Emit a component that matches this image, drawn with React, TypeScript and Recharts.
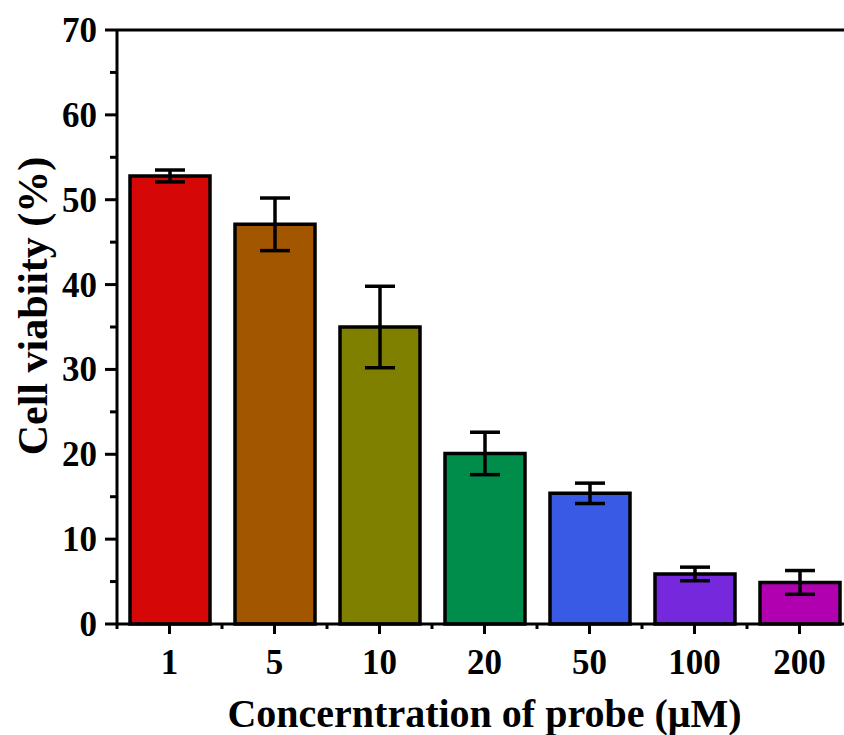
import { BarChart, Bar, XAxis, YAxis, Cell, ErrorBar, ReferenceLine, Label } from 'recharts'

const concentrations = ['1', '5', '10', '20', '50', '100', '200']
const viability = [52.8, 47.1, 35.0, 20.1, 15.4, 5.9, 4.9]
const errors = [0.7, 3.1, 4.8, 2.5, 1.2, 0.8, 1.4]
const barColors = ['#d60707', '#a35600', '#808000', '#008c4b', '#385ae4', '#7629dc', '#b000b0']
const yTicks = [0, 5, 10, 15, 20, 25, 30, 35, 40, 45, 50, 55, 60, 65, 70]

const data = concentrations.map((c, i) => ({ conc: c, value: viability[i], err: errors[i] }))

const FONT = '"Liberation Serif", "Times New Roman", serif'
const BAND = 105

const YTick = (props: any) => {
    const { x, y, payload } = props
    const major = payload.value % 10 === 0
    return (
        <g>
            <line x1={x} x2={x - (major ? 12 : 7)} y1={y} y2={y} stroke="#000" strokeWidth={3} />
            {major && (
                <text x={x - 20} y={y + 12} textAnchor="end" fontFamily={FONT} fontWeight="bold" fontSize={35} fill="#000">
                    {payload.value}
                </text>
            )}
        </g>
    )
}

const XTick = (props: any) => {
    const { x, y, payload, index } = props
    return (
        <g>
            <line x1={x} x2={x} y1={y} y2={y + 10} stroke="#000" strokeWidth={3} />
            <line x1={x - BAND / 2} x2={x - BAND / 2} y1={y} y2={y + 5} stroke="#000" strokeWidth={3} />
            {index === concentrations.length - 1 && (
                <line x1={x + BAND / 2} x2={x + BAND / 2} y1={y} y2={y + 5} stroke="#000" strokeWidth={3} />
            )}
            <text x={x} y={y + 50} textAnchor="middle" fontFamily={FONT} fontWeight="bold" fontSize={35} fill="#000">
                {payload.value}
            </text>
        </g>
    )
}

export default function App() {
    return (
        <div style={{ position: 'absolute', left: 0, top: 0, width: 844, height: 735, overflow: 'hidden', background: '#fff' }}>
            <BarChart
                width={860}
                height={735}
                data={data}
                margin={{ top: 30, right: 8, left: 0, bottom: 0 }}
            >
                <XAxis
                    dataKey="conc"
                    height={111}
                    axisLine={{ stroke: '#000', strokeWidth: 3 }}
                    tickLine={false}
                    tickSize={0}
                    tickMargin={0}
                    tick={<XTick />}
                    interval={0}
                >
                    <Label
                        value="Concerntration of probe (μM)"
                        position="insideBottom"
                        offset={8}
                        style={{ fontFamily: FONT, fontWeight: 'bold', fontSize: 40, fill: '#000' }}
                    />
                </XAxis>
                <YAxis
                    width={117}
                    domain={[0, 70]}
                    ticks={yTicks}
                    interval={0}
                    axisLine={{ stroke: '#000', strokeWidth: 3 }}
                    tickLine={false}
                    tickSize={0}
                    tickMargin={0}
                    tick={<YTick />}
                >
                    <Label
                        content={() => (
                            <text
                                x={33}
                                y={306}
                                transform="rotate(-90 33 306)"
                                textAnchor="middle"
                                dominantBaseline="central"
                                fontFamily={FONT}
                                fontWeight="bold"
                                fontSize={42}
                                fill="#000"
                            >
                                Cell viabiity (%)
                            </text>
                        )}
                    />
                </YAxis>
                <ReferenceLine y={70} stroke="#000" strokeWidth={3} />
                <Bar dataKey="value" barSize={80} stroke="#000" strokeWidth={3.5} isAnimationActive={false}>
                    {data.map((d, i) => (
                        <Cell key={d.conc} fill={barColors[i]} />
                    ))}
                    <ErrorBar dataKey="err" width={15} stroke="#000" strokeWidth={3.5} direction="y" isAnimationActive={false} />
                </Bar>
            </BarChart>
        </div>
    )
}
